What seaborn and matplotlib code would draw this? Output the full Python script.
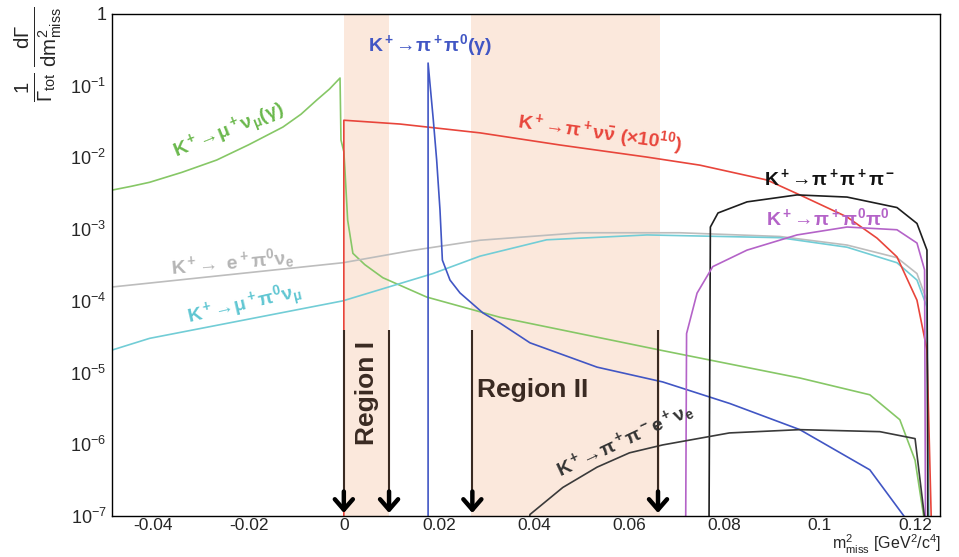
import numpy as np
import pandas as pd
import seaborn as sns
import matplotlib.pyplot as plt
from matplotlib.ticker import MultipleLocator, LogLocator, FixedLocator, NullFormatter

# curves (x = m2_miss [GeV^2/c^4], y = 1/Gtot dG/dm2)
kmunu_x = [-0.0487, -0.0447, -0.0408, -0.0340, -0.0267, -0.0200, -0.0128, -0.0090, -0.0057,
           -0.0030, -0.0008, -0.0006, 0.0, 0.0002, 0.0008, 0.0019, 0.0044, 0.0082, 0.0174,
           0.0328, 0.0664, 0.0958, 0.1105, 0.1168, 0.1200, 0.1225]
kmunu_y = [3.5e-3, 3.95e-3, 4.5e-3, 6.2e-3, 9.2e-3, 1.5e-2, 2.65e-2, 4.0e-2, 6.3e-2,
           9.0e-2, 1.28e-1, 1.75e-2, 1.2e-2, 7.3e-3, 1.34e-3, 4.6e-4, 3.2e-4, 2.1e-4, 1.13e-4,
           5.9e-5, 2.06e-5, 8.4e-6, 4.9e-6, 2.2e-6, 6e-7, 5e-8]

pinunu_x = [0.0, 0.0, 0.0118, 0.0286, 0.0454, 0.0637, 0.0748, 0.0889, 0.0958, 0.1057,
            0.1120, 0.1162, 0.1204, 0.1225, 0.1235]
pinunu_y = [5e-8, 0.033, 0.0292, 0.022, 0.0149, 0.0101, 0.0078, 0.00484, 0.003, 0.00148,
            7.5e-4, 4.1e-4, 1.02e-4, 2.06e-5, 5e-8]

pipi0_x = [0.0177, 0.0177, 0.0188, 0.0195, 0.0202, 0.0207, 0.0223, 0.0244, 0.0292, 0.0328,
           0.0391, 0.0532, 0.067, 0.0811, 0.0958, 0.1105, 0.121]
pipi0_y = [5e-8, 0.207, 0.033, 9.2e-3, 1.85e-3, 3.7e-4, 1.95e-4, 1.29e-4, 6.8e-5, 4.9e-5,
           2.6e-5, 1.19e-5, 7.4e-6, 3.7e-6, 1.6e-6, 4.4e-7, 5e-8]

ke3_x = [-0.0487, -0.0408, -0.0002, 0.0140, 0.0286, 0.0496, 0.0706, 0.0916, 0.1057, 0.1162,
         0.1204, 0.1225, 0.1229]
ke3_y = [1.56e-4, 1.77e-4, 3.4e-4, 5.0e-4, 7.0e-4, 8.9e-4, 8.9e-4, 7.9e-4, 6.0e-4, 4.0e-4,
         2.4e-4, 1.0e-4, 5e-8]

kmu3_x = [-0.0487, -0.0408, -0.0002, 0.0187, 0.0286, 0.0426, 0.0637, 0.0916, 0.1057, 0.1162,
          0.1204, 0.1225, 0.1229]
kmu3_y = [2.06e-5, 3.0e-5, 1.0e-4, 2.4e-4, 4.2e-4, 7.1e-4, 8.3e-4, 7.6e-4, 5.6e-4, 3.4e-4,
          1.95e-4, 8.2e-5, 5e-8]

k3pi_x = [0.0767, 0.0770, 0.0786, 0.0847, 0.0952, 0.1057, 0.1162, 0.1204, 0.1225, 0.1227]
k3pi_y = [5e-8, 1.07e-3, 1.68e-3, 2.4e-3, 3.0e-3, 2.8e-3, 2.0e-3, 1.2e-3, 5.1e-4, 5e-8]

k3pi0_x = [0.0718, 0.0720, 0.0742, 0.0775, 0.0847, 0.0952, 0.1057, 0.1162, 0.1204, 0.1220, 0.1222]
k3pi0_y = [5e-8, 3.5e-5, 1.28e-4, 3.0e-4, 5.1e-4, 8.3e-4, 1.07e-3, 9.8e-4, 6.4e-4, 2.7e-4, 5e-8]

ke4_x = [0.0385, 0.0391, 0.046, 0.0532, 0.060, 0.067, 0.081, 0.0958, 0.1126, 0.120, 0.1225]
ke4_y = [5e-8, 1.05e-7, 2.5e-7, 4.8e-7, 7.6e-7, 9.8e-7, 1.44e-6, 1.6e-6, 1.5e-6, 1.2e-6, 5e-8]

region1 = (0.0, 0.0095)
region2 = (0.0267, 0.0664)
arrow_x = [0.0, 0.0095, 0.027, 0.066]

sns.set_style('white')
plt.rcParams['font.family'] = ['Liberation Sans', 'DejaVu Sans']
plt.rcParams['mathtext.fontset'] = 'custom'
plt.rcParams['mathtext.rm'] = 'Liberation Sans'
plt.rcParams['mathtext.it'] = 'Liberation Sans:italic'
plt.rcParams['mathtext.bf'] = 'Liberation Sans:bold'

fig = plt.figure(figsize=(9.59, 5.57), dpi=100)
ax = fig.add_axes([0.1168, 0.0736, 0.8632, 0.9013])

# shaded signal regions
ax.axvspan(*region1, color='#fbe8dc', lw=0, zorder=0)
ax.axvspan(*region2, color='#fbe8dc', lw=0, zorder=0)

curves = [
    (kmunu_x, kmunu_y, '#86c766'),
    (ke3_x, ke3_y, '#bdbdbd'),
    (kmu3_x, kmu3_y, '#72cdd6'),
    (pinunu_x, pinunu_y, '#e8453b'),
    (pipi0_x, pipi0_y, '#4156c4'),
    (k3pi_x, k3pi_y, '#1e1e1e'),
    (k3pi0_x, k3pi0_y, '#b463c8'),
    (ke4_x, ke4_y, '#3a3a3a'),
]
for xs, ys, col in curves:
    df = pd.DataFrame({'x': xs, 'y': ys})
    sns.lineplot(data=df, x='x', y='y', sort=False, estimator=None, color=col, lw=1.2,
                 ax=ax, zorder=2)

ax.set_yscale('log')
ax.set_xlim(-0.0487, 0.1252)
ax.set_ylim(1e-7, 1)

# region arrows
brown = '#3a2a22'
for xa in arrow_x:
    ax.vlines(xa, 1.5e-7, 3.9e-5, color=brown, lw=1.5, zorder=3)
    ax.annotate('', xy=(xa, 1.1e-7), xytext=(xa, 2.2e-7),
                arrowprops=dict(arrowstyle='->,head_length=0.75,head_width=0.65',
                                lw=3.2, color='black', shrinkA=0, shrinkB=0), zorder=4)

ax.text(0.0048, 5.2e-6, 'Region I', rotation=90, fontsize=19, fontweight='bold',
        color=brown, ha='center', va='center')
ax.text(0.0397, 5.7e-6, 'Region II', fontsize=19, fontweight='bold',
        color=brown, ha='center', va='center')

# decay labels
lab = dict(fontsize=14, ha='center', va='center')
ax.text(-0.024, 0.0226, r'$\mathbf{K^+\!\rightarrow\!\mu^+\nu_{\mu}(\gamma)}$', color='#6ab84c', rotation=22, **lab)
ax.text(-0.0235, 3.5e-4, r'$\mathbf{K^+\!\rightarrow\ e^+\pi^0\nu_{e}}$', color='#b5b5b5', rotation=5, **lab)
ax.text(-0.0208, 8.7e-5, r'$\mathbf{K^+\!\rightarrow\!\mu^+\pi^0\nu_{\mu}}$', color='#5fc6d2', rotation=13, **lab)
ax.text(0.018, 0.37, r'$\mathbf{K^+\!\rightarrow\!\pi^+\pi^0(\gamma)}$', color='#4156c4', **lab)
ax.text(0.0538, 0.022, r'$\mathbf{K^+\!\rightarrow\!\pi^+\nu\bar{\nu}\ (\times10^{10})}$', color='#e8453b', rotation=-8, **lab)
ax.text(0.102, 5.2e-3, r'$\mathbf{K^+\!\rightarrow\!\pi^+\pi^+\pi^-}$', color='#111111', **lab)
ax.text(0.1017, 1.43e-3, r'$\mathbf{K^+\!\rightarrow\!\pi^+\pi^0\pi^0}$', color='#b463c8', **lab)
ax.text(0.059, 1.15e-6, r'$\mathbf{K^+\!\rightarrow\!\pi^+\pi^-e^+\nu_e}$', color='#333333', rotation=25, **lab)

# ROOT-like axes
ax.xaxis.set_minor_locator(MultipleLocator(0.005))
ax.set_xticks([-0.04, -0.02, 0, 0.02, 0.04, 0.06, 0.08, 0.1, 0.12])
ax.set_xticklabels(['-0.04', '-0.02', '0', '0.02', '0.04', '0.06', '0.08', '0.1', '0.12'])
ax.yaxis.set_major_locator(FixedLocator([10.0 ** k for k in range(-7, 1)]))
ax.yaxis.set_minor_locator(LogLocator(base=10, subs=np.arange(2, 10), numticks=20))
ax.yaxis.set_minor_formatter(NullFormatter())
ax.set_yticklabels(['$10^{-%d}$' % k for k in range(7, 0, -1)] + ['1'])
ax.tick_params(axis='both', which='major', direction='in', length=11, width=1, labelsize=13, pad=4)
ax.tick_params(axis='x', which='major', pad=1.5, labelsize=12.5)
ax.tick_params(axis='both', which='minor', direction='in', length=6, width=1)
for s in ax.spines.values():
    s.set_linewidth(1)
    s.set_color('black')
ax.set_xlabel('')
ax.set_ylabel('')

fig.text(0.982, 0.002, r'$\mathrm{m^2_{miss}}$ [GeV$^2$/c$^4$]', fontsize=11.5, ha='right', va='bottom')
fig.text(0.04, 0.99, r'$\mathrm{\frac{1}{\Gamma_{tot}}\,\frac{d\Gamma}{dm^2_{miss}}}$', fontsize=21,
         rotation=90, ha='center', va='top')

fig.savefig('out.png', dpi=100)
